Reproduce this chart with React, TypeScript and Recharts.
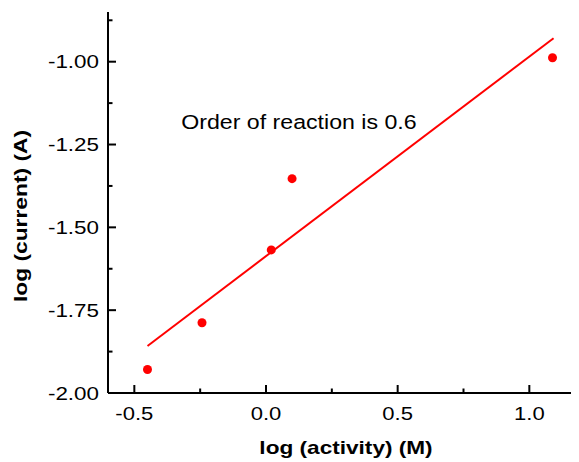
import React from 'react';
import { ScatterChart, Scatter, XAxis, YAxis, ReferenceDot } from 'recharts';

const xValues = [-0.45, -0.243, 0.02, 0.099, 1.088];
const yValues = [-1.929, -1.788, -1.568, -1.353, -0.988];
const fitX = [-0.45, 1.092];
const fitY = [-1.858, -0.929];
const xTicks = [-0.5, -0.25, 0, 0.25, 0.5, 0.75, 1.0];
const yTicks = [-2.0, -1.875, -1.75, -1.625, -1.5, -1.375, -1.25, -1.125, -1.0, -0.875];
const annotation = 'Order of reaction is 0.6';
const xLabel = 'log (activity) (M)';
const yLabel = 'log (current) (A)';

const points = xValues.map((x, i) => ({ x, y: yValues[i] }));
const fit = fitX.map((x, i) => ({ x, y: fitY[i] }));

const FONT = '"Liberation Sans", Arial, Helvetica, sans-serif';
const RED = '#ff0000';

const isMajor = (v: number, k: number) => Math.abs(v * k - Math.round(v * k)) < 1e-6;

const SText = (props: any) => {
  const { x, y, anchor = 'start', sx = 1.17, size = 19, bold = false, rotate = 0, children } = props;
  return (
    <text
      x={0}
      y={0}
      transform={`translate(${x},${y}) rotate(${rotate}) scale(${sx},1)`}
      textAnchor={anchor}
      fontFamily={FONT}
      fontWeight={bold ? 'bold' : 'normal'}
      fontSize={size}
      fill="#000"
    >
      {children}
    </text>
  );
};

const XTick = (props: any) => {
  const { x, y, payload } = props;
  const v = payload.value;
  const major = isMajor(v, 2);
  return (
    <g>
      <line x1={x} x2={x} y1={y} y2={y - (major ? 8 : 4.5)} stroke="#000" strokeWidth={2} />
      {major && (
        <SText x={x} y={y + 26.5} anchor="middle" sx={1.16} size={19}>
          {v.toFixed(1)}
        </SText>
      )}
    </g>
  );
};

const YTick = (props: any) => {
  const { x, y, payload } = props;
  const v = payload.value;
  const major = isMajor(v, 4);
  return (
    <g>
      <line x1={x} x2={x + (major ? 8 : 4.5)} y1={y} y2={y} stroke="#000" strokeWidth={2} />
      {major && (
        <SText x={x - 9} y={y + 6.7} anchor="end" sx={1.18} size={19}>
          {v.toFixed(2)}
        </SText>
      )}
    </g>
  );
};

const Dot = (props: any) => <circle cx={props.cx} cy={props.cy} r={4.5} fill={RED} />;
const NoDot = () => <g />;

export default function App() {
  return (
    <div style={{ width: 571, height: 454, overflow: 'hidden', background: '#fff' }}>
      <ScatterChart width={600} height={454} margin={{ top: 4, right: 26, left: 0, bottom: 0 }}>
        <XAxis
          dataKey="x"
          type="number"
          domain={[-0.6, 1.2]}
          ticks={xTicks}
          interval={0}
          allowDataOverflow
          height={69}
          tickSize={0}
          tickMargin={0}
          tickLine={false}
          axisLine={{ stroke: '#000', strokeWidth: 2 }}
          tick={<XTick />}
          label={{
            content: (p: any) => (
              <SText
                x={p.viewBox.x + p.viewBox.width / 2 + 1}
                y={p.viewBox.y + 61}
                anchor="middle"
                bold
                sx={1.19}
                size={19}
              >
                {xLabel}
              </SText>
            ),
          }}
        />
        <XAxis
          xAxisId="top"
          orientation="top"
          type="number"
          domain={[-0.6, 1.2]}
          height={0}
          tick={false}
          tickLine={false}
          axisLine={{ stroke: '#000', strokeWidth: 2 }}
        />
        <YAxis
          dataKey="y"
          type="number"
          domain={[-2.0, -0.85]}
          ticks={yTicks}
          interval={0}
          allowDataOverflow
          width={100}
          tickSize={0}
          tickMargin={0}
          tickLine={false}
          axisLine={{ stroke: '#000', strokeWidth: 2 }}
          tick={<YTick />}
          label={{
            content: (p: any) => (
              <SText
                x={p.viewBox.x + 19}
                y={p.viewBox.y + 204}
                rotate={-90}
                anchor="middle"
                bold
                sx={1.2}
                size={19}
              >
                {yLabel}
              </SText>
            ),
          }}
        />
        <YAxis
          yAxisId="right"
          orientation="right"
          type="number"
          domain={[-2.0, -0.85]}
          width={0}
          tick={false}
          tickLine={false}
          axisLine={{ stroke: '#000', strokeWidth: 2 }}
        />
        <Scatter
          data={fit}
          line={{ stroke: RED, strokeWidth: 2 }}
          shape={<NoDot />}
          isAnimationActive={false}
        />
        <Scatter data={points} shape={<Dot />} isAnimationActive={false} />
        <ReferenceDot
          x={-0.322}
          y={-1.202}
          r={0}
          fill="none"
          stroke="none"
          label={{
            content: (p: any) => (
              <SText x={p.viewBox.x} y={p.viewBox.y} anchor="start" sx={1.13} size={20.5}>
                {annotation}
              </SText>
            ),
          }}
        />
      </ScatterChart>
    </div>
  );
}
